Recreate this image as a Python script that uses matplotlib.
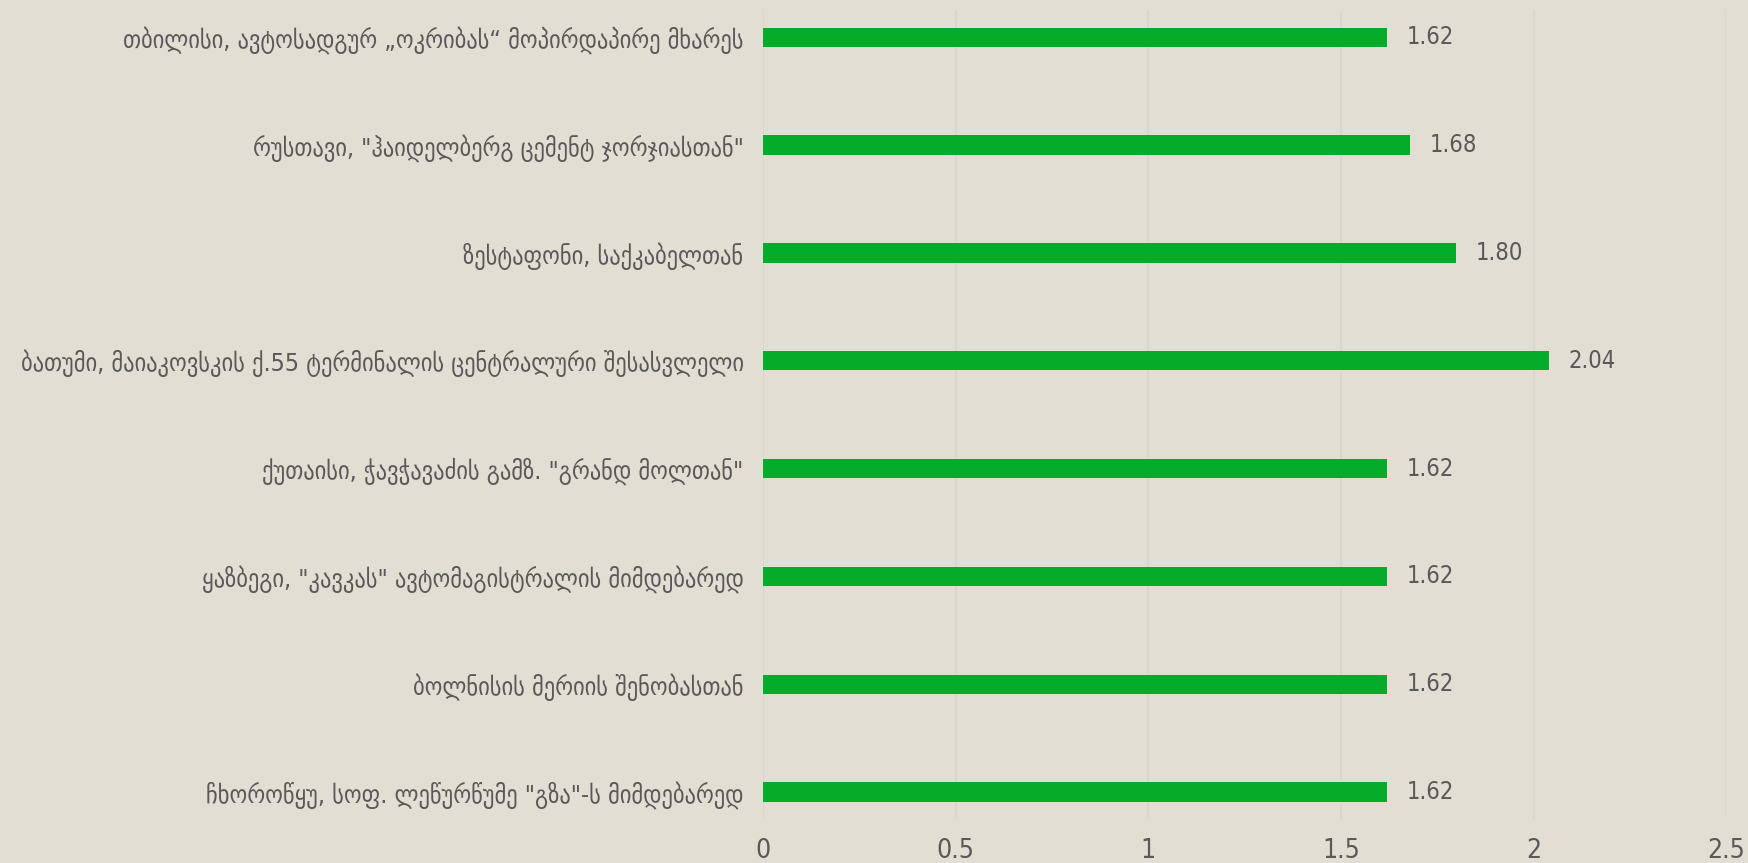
import matplotlib

matplotlib.use('Agg')
import matplotlib.pyplot as plt

# categories top to bottom, as in the reference
labels = [
    'თბილისი, ავტოსადგურ „ოკრიბას“ მოპირდაპირე მხარეს',
    'რუსთავი, "ჰაიდელბერგ ცემენტ ჯორჯიასთან"',
    'ზესტაფონი, საქკაბელთან',
    'ბათუმი, მაიაკოვსკის ქ.55 ტერმინალის ცენტრალური შესასვლელი',
    'ქუთაისი, ჭავჭავაძის გამზ. "გრანდ მოლთან"',
    'ყაზბეგი, "კავკას" ავტომაგისტრალის მიმდებარედ',
    'ბოლნისის მერიის შენობასთან',
    'ჩხოროწყუ, სოფ. ლეწურწუმე "გზა"-ს მიმდებარედ',
]
values = [1.62, 1.68, 1.80, 2.04, 1.62, 1.62, 1.62, 1.62]
xticks = [0, 0.5, 1, 1.5, 2, 2.5]
xtick_labels = ['0', '0.5', '1', '1.5', '2', '2.5']

bg = '#E3DED3'
bar_color = '#05AC2A'
text_color = '#595959'

plt.rcParams['font.family'] = ['DejaVu Sans']

fig = plt.figure(figsize=(17.48, 8.63), dpi=100, facecolor=bg)
ax = fig.add_axes([0.4365, 0.051, 0.551, 0.937], facecolor=bg)

pos = list(range(len(labels)))
ax.barh(pos, values, height=0.18, color=bar_color, zorder=3)

for p, v in zip(pos, values):
    ax.annotate('%.2f' % v, (v, p), xytext=(14, 0), textcoords='offset points',
                va='center', ha='left', fontsize=17, color=text_color,
                fontstretch='condensed')

ax.set_xlim(0, 2.5)
ax.set_ylim(7.25, -0.25)
ax.set_yticks(pos)
ax.set_yticklabels(labels, fontsize=18, color=text_color, fontstretch='condensed')
ax.set_xticks(xticks)
ax.set_xticklabels(xtick_labels, fontsize=19, color=text_color, fontstretch='condensed')
ax.tick_params(axis='both', length=0)
ax.tick_params(axis='y', pad=14)
ax.tick_params(axis='x', pad=14)
ax.grid(axis='x', color='#D8D6D0', linewidth=1.2, zorder=0)
for s in ax.spines.values():
    s.set_visible(False)

fig.savefig('out.png', dpi=100, facecolor=bg)
